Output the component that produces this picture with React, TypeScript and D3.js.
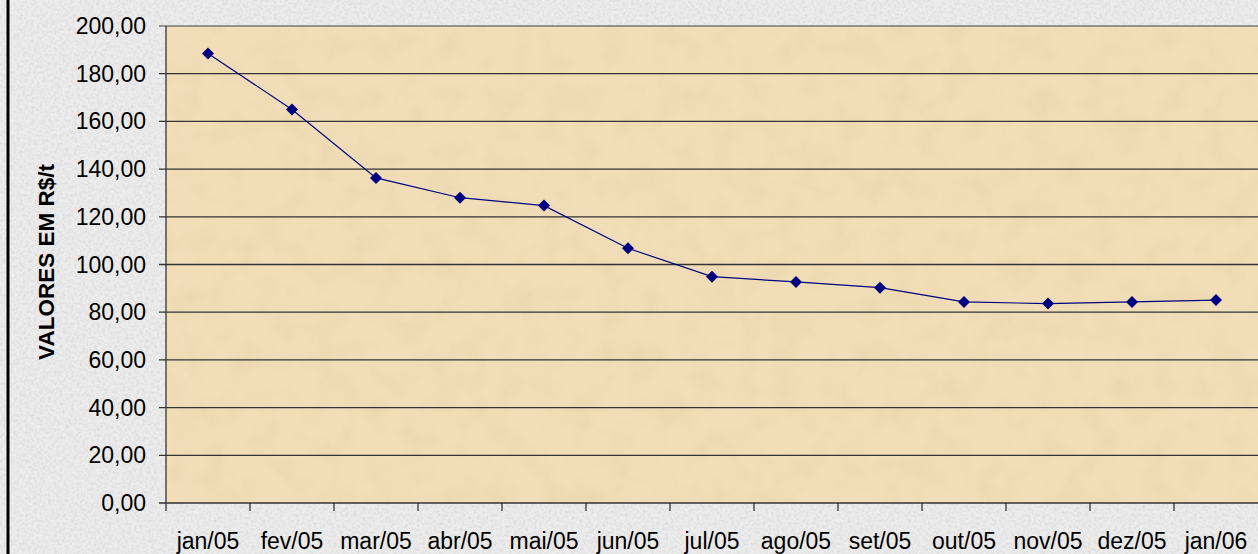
import { useMemo } from "react";
import * as d3 from "d3";

const months = ["jan/05", "fev/05", "mar/05", "abr/05", "mai/05", "jun/05", "jul/05", "ago/05", "set/05", "out/05", "nov/05", "dez/05", "jan/06"];
const prices = [188.5, 165.0, 136.3, 128.0, 124.7, 106.8, 94.9, 92.7, 90.3, 84.3, 83.6, 84.3, 85.1];
const yTicks = [0, 20, 40, 60, 80, 100, 120, 140, 160, 180, 200];
const yTitle = "VALORES EM R$/t";

const W = 1258;
const H = 554;
const margin = { left: 166, right: 0, top: 26, bottom: 51 };

const ptBR = d3.formatLocale({ decimal: ",", thousands: ".", grouping: [3], currency: ["R$", ""] });
const fmt = ptBR.format(".2f");

export default function App() {
    const x = useMemo(() => d3.scaleBand().domain(months).range([margin.left, W - margin.right]).padding(0), []);
    const y = useMemo(() => d3.scaleLinear().domain([0, 200]).range([H - margin.bottom, margin.top]), []);

    const line = d3.line<number>()
        .x((_, i) => (x(months[i]) ?? 0) + x.bandwidth() / 2)
        .y(d => y(d));

    const plotBottom = y(0);
    const plotTop = y(200);
    const font = "'Liberation Sans', Arial, sans-serif";

    return (
        <svg width={W} height={H} style={{ position: "absolute", left: 0, top: 0, display: "block" }}>
            <defs>
                <filter id="greyNoise" x="0" y="0" width="100%" height="100%">
                    <feTurbulence type="fractalNoise" baseFrequency="0.35" numOctaves="2" seed="3" result="n" />
                    <feColorMatrix type="matrix" values="0 0 0 0 0.6  0 0 0 0 0.6  0 0 0 0 0.6  0 0 0 -1.8 1.1" />
                </filter>
                <filter id="tanNoise" x="0" y="0" width="100%" height="100%">
                    <feTurbulence type="fractalNoise" baseFrequency="0.035" numOctaves="4" seed="7" result="n" />
                    <feColorMatrix type="matrix" values="0 0 0 0 0.80  0 0 0 0 0.64  0 0 0 0 0.40  0 0 0 -1.6 0.95" />
                </filter>
            </defs>

            {/* outer marble background */}
            <rect x={0} y={0} width={W} height={H} fill="#ececec" />
            <rect x={0} y={0} width={W} height={H} filter="url(#greyNoise)" opacity={0.55} />
            <line x1={8} x2={8} y1={0} y2={H} stroke="#000" strokeWidth={3} />

            {/* plot area */}
            <rect x={margin.left} y={plotTop} width={W - margin.left} height={plotBottom - plotTop} fill="#f1deb8" />
            <rect x={margin.left} y={plotTop} width={W - margin.left} height={plotBottom - plotTop} filter="url(#tanNoise)" opacity={0.7} />

            {/* gridlines */}
            {yTicks.map(t => (
                <line key={t} x1={margin.left - 7} x2={W} y1={y(t)} y2={y(t)}
                    stroke={t === 200 ? "#777" : "#333"} strokeWidth={1.3} />
            ))}
            <line x1={margin.left} x2={margin.left} y1={plotTop} y2={plotBottom + 8} stroke="#333" strokeWidth={1.3} />

            {/* y labels */}
            {yTicks.map(t => (
                <text key={t} x={146} y={y(t)} textAnchor="end" dominantBaseline="central"
                    style={{ fontFamily: font, fontSize: "23px", fill: "#000" }}>{fmt(t)}</text>
            ))}

            {/* x ticks and labels */}
            {months.map((m, i) => (
                <g key={m}>
                    {i > 0 ? <line x1={x(m)} x2={x(m)} y1={plotBottom} y2={plotBottom + 8} stroke="#333" strokeWidth={1.3} /> : null}
                    <text x={(x(m) ?? 0) + x.bandwidth() / 2} y={549} textAnchor="middle"
                        style={{ fontFamily: font, fontSize: "23px", fill: "#000" }}>{m}</text>
                </g>
            ))}

            {/* axis title */}
            <text transform={`translate(46, 262) rotate(-90)`} textAnchor="middle" dominantBaseline="central"
                style={{ fontFamily: font, fontSize: "22.5px", fontWeight: "bold", fill: "#000" }}>{yTitle}</text>

            {/* series */}
            <path d={line(prices) ?? ""} fill="none" stroke="#000080" strokeWidth={1.2} />
            {prices.map((v, i) => {
                const cx = (x(months[i]) ?? 0) + x.bandwidth() / 2;
                const cy = y(v);
                return (
                    <path key={i} d={`M${cx},${cy - 6}L${cx + 6},${cy}L${cx},${cy + 6}L${cx - 6},${cy}Z`} fill="#000080" />
                );
            })}
        </svg>
    );
}
